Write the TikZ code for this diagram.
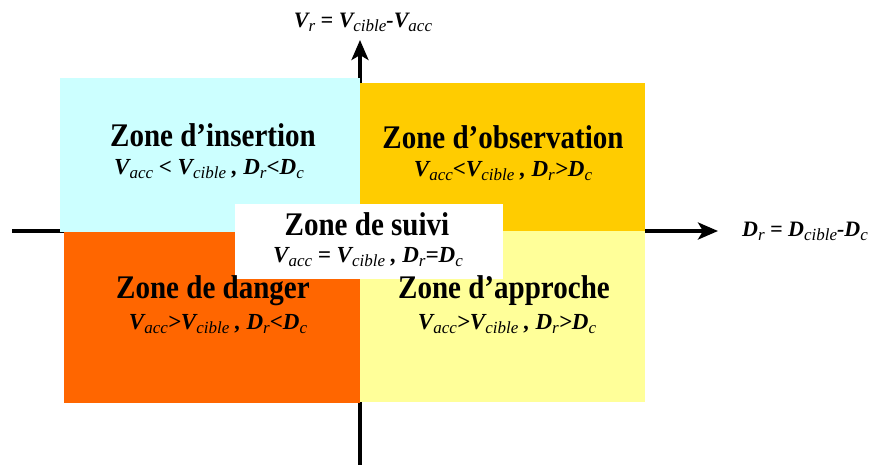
\documentclass[tikz,border=0pt]{standalone}
\usepackage{fontspec}
\setmainfont{Liberation Serif}
\newfontfamily\ttlfont{Liberation Serif}[FakeStretch=0.88]
\usetikzlibrary{arrows.meta}
\definecolor{cyanz}{RGB}{204,255,255}
\definecolor{goldz}{RGB}{255,204,0}
\definecolor{orangez}{RGB}{255,102,0}
\definecolor{paleyz}{RGB}{255,255,153}
\newcommand\sbs[1]{\raisebox{-0.45ex}{\fontsize{17}{17}\selectfont\mdseries\itshape #1}}
\newcommand\fmfont{\fontsize{23}{23}\selectfont\bfseries\itshape}
\newcommand\lblfont{\fontsize{22}{22}\selectfont\bfseries\itshape}
\tikzset{
  zone/.style={draw=none, inner sep=0pt, outer sep=0pt, anchor=north west},
  ttl/.style={anchor=base, inner sep=0pt, font=\ttlfont\fontsize{33}{33}\selectfont\bfseries},
  fml/.style={anchor=base, inner sep=0pt, font=\fmfont},
  lbl/.style={anchor=base, inner sep=0pt, font=\lblfont},
  axis/.style={line width=3.5pt, -{Stealth[length=20pt,width=17pt,inset=5pt]}}
}
\begin{document}
\begin{tikzpicture}[x=1pt,y=-1pt]
\useasboundingbox (0,0) rectangle (873,464);
% axes
\coordinate (hl) at (12,231);
\coordinate (hr) at (718,231);
\coordinate (vb) at (360,466);
\coordinate (vt) at (360,40);
\draw[axis] (hl) -- (hr);
\draw[axis] (vb) -- (vt);
% zones
\node[zone, fill=cyanz, minimum width=300pt, minimum height=154pt] (ins) at (60,78) {};
\node[zone, fill=goldz, minimum width=285pt, minimum height=148pt] (obs) at (360,83) {};
\node[zone, fill=orangez, minimum width=296pt, minimum height=171pt] (dan) at (64,232) {};
\node[zone, fill=paleyz, minimum width=285pt, minimum height=171pt] (app) at (360,231) {};
\node[zone, fill=white, minimum width=268pt, minimum height=75pt] (sui) at (235,204) {};
% texts
\node[ttl] (tins) at (213,146) {Zone d’insertion};
\node[fml] (fins) at (209,174) {V\sbs{acc} < V\sbs{cible} , D\sbs{r}<D\sbs{c}};
\node[ttl] (tobs) at (503,148) {Zone d’observation};
\node[fml] (fobs) at (503,176) {V\sbs{acc}<V\sbs{cible} , D\sbs{r}>D\sbs{c}};
\node[ttl] (tsui) at (367,235) {Zone de suivi};
\node[fml] (fsui) at (368,262) {V\sbs{acc} = V\sbs{cible} , D\sbs{r}=D\sbs{c}};
\node[ttl] (tdan) at (213,298) {Zone de danger};
\node[fml] (fdan) at (218,329) {V\sbs{acc}>V\sbs{cible} , D\sbs{r}<D\sbs{c}};
\node[ttl] (tapp) at (504,298) {Zone d’approche};
\node[fml] (fapp) at (507,329) {V\sbs{acc}>V\sbs{cible} , D\sbs{r}>D\sbs{c}};
% axis labels
\node[lbl] (lv) at (363,27) {V\sbs{r} = V\sbs{cible}-V\sbs{acc}};
\node[lbl] (ld) at (805,236) {D\sbs{r} = D\sbs{cible}-D\sbs{c}};
\end{tikzpicture}
\end{document}
